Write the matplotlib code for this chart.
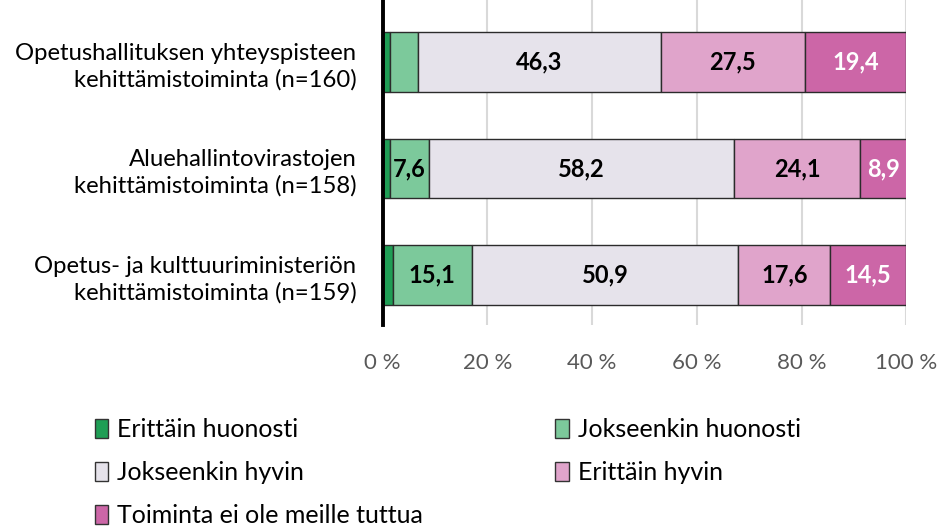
import matplotlib
matplotlib.use("Agg")
import matplotlib.pyplot as plt
from matplotlib.patches import Patch
import numpy as np

plt.rcParams['font.family'] = ['Lato', 'DejaVu Sans']

categories = [
    "Opetushallituksen yhteyspisteen\nkehittämistoiminta (n=160)",
    "Aluehallintovirastojen\nkehittämistoiminta (n=158)",
    "Opetus- ja kulttuuriministeriön\nkehittämistoiminta (n=159)",
]
series_names = ["Erittäin huonosti", "Jokseenkin huonosti", "Jokseenkin hyvin",
                "Erittäin hyvin", "Toiminta ei ole meille tuttua"]
erittain_huonosti = [1.3, 1.3, 1.9]
jokseenkin_huonosti = [5.5, 7.6, 15.1]
jokseenkin_hyvin = [46.3, 58.2, 50.9]
erittain_hyvin = [27.5, 24.1, 17.6]
ei_tuttua = [19.4, 8.9, 14.5]
series = [erittain_huonosti, jokseenkin_huonosti, jokseenkin_hyvin, erittain_hyvin, ei_tuttua]
colors = ["#1f9e55", "#7cc99b", "#e6e3eb", "#e0a4cb", "#cc66a7"]
text_colors = ["black", "black", "black", "black", "white"]
xticks = [0, 20, 40, 60, 80, 100]
xticklabels = ["0 %", "20 %", "40 %", "60 %", "80 %", "100 %"]

fig = plt.figure(figsize=(9.45, 5.27), dpi=100)
ax = fig.add_axes([0.405, 0.383, 0.554, 0.617])

y = np.arange(len(categories))
left = np.zeros(len(categories))
for vals, col, tc in zip(series, colors, text_colors):
    vals = np.array(vals)
    ax.barh(y, vals, left=left, height=0.56, color=col, edgecolor="#2b2b2b",
            linewidth=1.0, zorder=3)
    for yi, (l, v) in enumerate(zip(left, vals)):
        if v >= 7:
            ax.text(l + v / 2, yi, f"{v:.1f}".replace(".", ","), ha="center",
                    va="center", fontsize=17, fontweight="bold", color=tc, zorder=4)
    left += vals

ax.set_xlim(0, 100)
ax.set_ylim(2.47, -0.58)
ax.set_yticks(y)
ax.set_yticklabels(categories, fontsize=17.2, ha="right", linespacing=1.3)
ax.set_xticks(xticks)
ax.set_xticklabels(xticklabels, fontsize=16, color="#595959")
ax.tick_params(axis="both", length=0)
ax.tick_params(axis="x", pad=20)
ax.tick_params(axis="y", pad=19)
ax.xaxis.grid(True, color="#d9d9d9", linewidth=1.5, zorder=0)
ax.set_axisbelow(True)
for s in ["top", "right", "bottom"]:
    ax.spines[s].set_visible(False)
ax.spines["left"].set_linewidth(2.8)
ax.spines["left"].set_color("black")
ax.spines["left"].set_zorder(5)

handles = [Patch(facecolor=c, edgecolor="#333333", linewidth=1.0) for c in colors]
order = [0, 2, 4, 1, 3]
leg = fig.legend([handles[i] for i in order], [series_names[i] for i in order],
                 ncol=2, loc="upper left", bbox_to_anchor=(0.100, 0.207),
                 frameon=False, fontsize=18, handlelength=0.55, handleheight=0.8,
                 handletextpad=0.35, columnspacing=5.3, labelspacing=0.8,
                 borderaxespad=0, borderpad=0)

fig.savefig("out.png", dpi=100)
